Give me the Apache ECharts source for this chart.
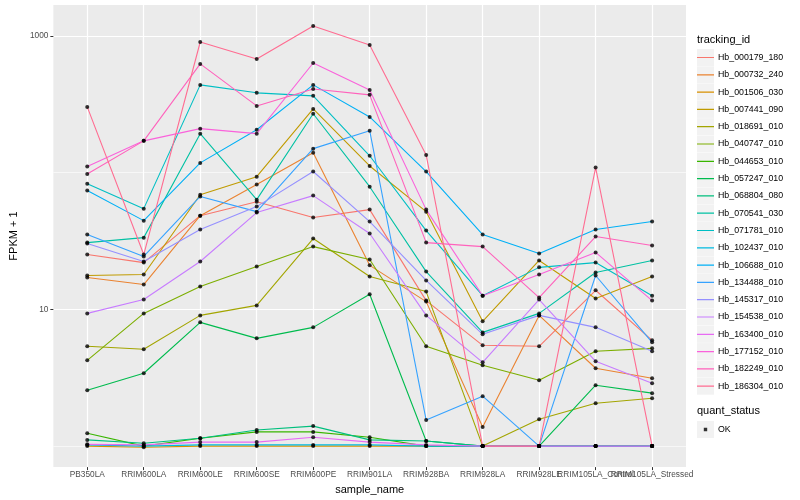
<!DOCTYPE html>
<html><head><meta charset="utf-8">
<script src="https://cdn.jsdelivr.net/npm/echarts@6/dist/echarts.min.js"></script>
<style>html,body{margin:0;padding:0;background:#fff}#c{width:800px;height:500px}</style>
</head><body><div id="c"></div>
<script>
const categories = ['PB350LA','RRIM600LA','RRIM600LE','RRIM600SE','RRIM600PE','RRIM901LA','RRIM928BA','RRIM928LA','RRIM928LE','RRIM105LA_Control','RRIM105LA_Stressed'];
const trackingIds = ['Hb_000179_180','Hb_000732_240','Hb_001506_030','Hb_007441_090','Hb_018691_010','Hb_040747_010','Hb_044653_010','Hb_057247_010','Hb_068804_080','Hb_070541_030','Hb_071781_010','Hb_102437_010','Hb_106688_010','Hb_134488_010','Hb_145317_010','Hb_154538_010','Hb_163400_010','Hb_177152_010','Hb_182249_010','Hb_186304_010'];
const colors = ['#F8766D','#EA8331','#D89000','#C09B00','#A3A500','#7CAE00','#39B600','#00BB4E','#00BF7D','#00C1A3','#00BFC4','#00BAE0','#00B0F6','#35A2FF','#9590FF','#C77CFF','#E76BF3','#FA62DB','#FF62BC','#FF6C91'];

const Hb_000179_180 = [25.2, 22, 48.5, 61.4, 47, 53.7, 11.6, 5.46, 5.37, 13.8, 5.94];
const Hb_000732_240 = [17.1, 15.2, 48.5, 82, 140, 21, 11.4, 1.38, 9.04, 3.71, 3.14];
const Hb_001506_030 = [1, 0.98, 1, 1, 1, 1, 1, 1, 1, 1, 1];
const Hb_007441_090 = [17.7, 18, 69, 93.5, 293, 112, 51.9, 8.18, 22.8, 12, 17.4];
const Hb_018691_010 = [5.37, 5.11, 9.04, 10.7, 33, 17.4, 13.5, 1, 1.57, 2.06, 2.24];
const Hb_040747_010 = [4.24, 9.35, 14.7, 20.6, 28.8, 23.2, 5.37, 3.9, 3.03, 4.94, 5.19];
const Hb_044653_010 = [1.24, 1, 1.14, 1.27, 1.27, 1.16, 1, 1, 1, 1, 1];
const Hb_057247_010 = [2.56, 3.41, 8.04, 6.14, 7.39, 12.9, 1.09, 1, 1, 2.79, 2.44];
const Hb_068804_080 = [1.11, 1.05, 1.14, 1.31, 1.40, 1.11, 1.09, 1, 1, 1, 1];
const Hb_070541_030 = [30.8, 33.5, 193, 63.5, 270, 79, 18.9, 6.79, 9.35, 18.6, 22.8];
const Hb_071781_010 = [83, 54.6, 439, 384, 365, 133, 37.7, 12.6, 20.3, 22, 12.6];
const Hb_102437_010 = [1.02, 1, 1.02, 1.02, 1.02, 1.02, 1, 1, 1, 1, 1];
const Hb_106688_010 = [74, 44.6, 118, 206, 439, 256, 102, 35.3, 25.6, 38.4, 43.9];
const Hb_134488_010 = [35.3, 24.4, 67, 51.9, 150, 203, 1.55, 2.32, 1, 17.7, 5.74];
const Hb_145317_010 = [30.3, 22.4, 38.4, 56.5, 102, 43.9, 16.3, 6.57, 9.04, 7.39, 4.94];
const Hb_154538_010 = [9.35, 11.8, 22.4, 51.1, 68, 35.9, 9.04, 4.1, 11.8, 4.17, 2.88];
const Hb_163400_010 = [1.03, 1.02, 1.07, 1.07, 1.16, 1.07, 1.02, 1, 1, 1, 1];
const Hb_177152_010 = [111, 171, 210, 193, 635, 403, 53.7, 12.6, 18, 26.1, 11.6];
const Hb_182249_010 = [98, 171, 625, 308, 410, 371, 30.8, 28.8, 12.2, 34.1, 29.3];
const Hb_186304_010 = [303, 25.2, 904, 679, 1183, 860, 135, 1, 1, 109, 1];

const yMajorTicks = [10, 1000];
const yMinorTicks = [1, 100];
const quantStatus = ['OK'];

const seriesValues = [Hb_000179_180, Hb_000732_240, Hb_001506_030, Hb_007441_090, Hb_018691_010, Hb_040747_010, Hb_044653_010, Hb_057247_010, Hb_068804_080, Hb_070541_030, Hb_071781_010, Hb_102437_010, Hb_106688_010, Hb_134488_010, Hb_145317_010, Hb_154538_010, Hb_163400_010, Hb_177152_010, Hb_182249_010, Hb_186304_010];

const FONT = 'Liberation Sans, Arial, Helvetica, sans-serif';
const catIdx = categories.map((c, i) => i);
const evenIdx = catIdx.filter(i => i % 2 === 0);
const oddIdx = catIdx.filter(i => i % 2 === 1);
const yMin = 0.702, yMax = 1686;

const lineSeries = trackingIds.map((id, k) => ({
  name: id, type: 'line', color: colors[k],
  data: seriesValues[k].map((v, i) => [i, v]),
  symbol: 'none', showSymbol: false,
  lineStyle: { width: 1.1, color: colors[k] },
  emphasis: { disabled: true }, silent: true, z: 2
}));
const pointData = [];
seriesValues.forEach(arr => arr.forEach((v, i) => pointData.push([i, v])));
const pointSeries = {
  name: quantStatus[0], type: 'scatter', data: pointData, symbol: 'circle', symbolSize: 4,
  itemStyle: { color: '#000' }, silent: true, z: 3
};

const LEG_LEFT = 697, LEG_TOP = 49, KEY = 17, GAP = 0.3;
const keyRects = [];
trackingIds.forEach((id, k) => keyRects.push({
  type: 'rect', left: LEG_LEFT, top: LEG_TOP + k * (KEY + GAP), z: -1,
  shape: { width: KEY, height: KEY }, style: { fill: '#F2F2F2' }, silent: true
}));
keyRects.push({ type: 'rect', left: LEG_LEFT, top: 421, z: -1, shape: { width: KEY, height: KEY }, style: { fill: '#F2F2F2' }, silent: true });

const lineIcon = 'path://M0,0h0.01v0.01H0z M0,7.9h17v1.2H0z M16.99,16.99h0.01v0.01h-0.01z';
const dotIcon = 'path://M0,0h0.01v0.01H0z M6.8,6.8h3.4v3.4h-3.4z M16.99,16.99h0.01v0.01h-0.01z';

const xLabelStyle = { formatter: v => categories[Math.round(v)] || '', fontSize: 8.3, color: '#4D4D4D', margin: 4, fontFamily: FONT, hideOverlap: false };

const chart = echarts.init(document.getElementById('c'), null, { renderer: 'canvas' });
chart.setOption({
  animation: false,
  backgroundColor: '#fff',
  textStyle: { fontFamily: FONT },
  title: [
    { text: 'tracking_id', left: LEG_LEFT, top: 34, padding: 0, textStyle: { fontSize: 11, fontWeight: 'normal', color: '#000', fontFamily: FONT } },
    { text: 'quant_status', left: LEG_LEFT, top: 405, padding: 0, textStyle: { fontSize: 11, fontWeight: 'normal', color: '#000', fontFamily: FONT } }
  ],
  grid: { left: 45, right: 114, top: 5, bottom: 32, show: true, backgroundColor: '#EBEBEB', borderWidth: 0, containLabel: false },
  legend: [
    {
      data: trackingIds.map((id, k) => ({ name: id, icon: lineIcon, itemStyle: { color: colors[k], borderWidth: 0 } })),
      orient: 'vertical', left: LEG_LEFT, top: LEG_TOP, padding: 0,
      itemWidth: KEY, itemHeight: KEY, itemGap: GAP, selectedMode: false,
      itemStyle: { borderWidth: 0 },
      textStyle: { fontSize: 8.8, color: '#000', fontFamily: FONT, padding: [0, 0, 0, -1] }
    },
    {
      data: [{ name: quantStatus[0], icon: dotIcon, itemStyle: { color: '#000', borderWidth: 0 } }],
      orient: 'vertical', left: LEG_LEFT, top: 421, padding: 0,
      itemWidth: KEY, itemHeight: KEY, selectedMode: false,
      itemStyle: { borderWidth: 0 },
      textStyle: { fontSize: 8.8, color: '#000', fontFamily: FONT, padding: [0, 0, 0, -1] }
    }
  ],
  xAxis: [
    {
      type: 'value', min: -0.6, max: 10.6, position: 'bottom',
      name: 'sample_name', nameLocation: 'middle', nameGap: 14,
      nameTextStyle: { fontSize: 11, color: '#000', fontFamily: FONT },
      axisLine: { show: false, onZero: false },
      axisTick: { show: true, length: 3, lineStyle: { color: '#333', width: 1 }, customValues: catIdx },
      axisLabel: Object.assign({ customValues: evenIdx }, xLabelStyle),
      splitLine: { show: true, lineStyle: { color: '#fff', width: 1.2 } }
    },
    {
      type: 'value', min: -0.6, max: 10.6, position: 'bottom', offset: 0,
      axisLine: { show: false, onZero: false },
      axisTick: { show: false, customValues: oddIdx },
      axisLabel: Object.assign({ customValues: oddIdx }, xLabelStyle),
      splitLine: { show: false }
    }
  ],
  yAxis: [
    {
      type: 'log', logBase: 10, min: yMin, max: yMax,
      name: 'FPKM + 1', nameLocation: 'middle', nameGap: 28,
      nameTextStyle: { fontSize: 11, color: '#000', fontFamily: FONT },
      axisLine: { show: false, onZero: false },
      axisTick: { show: true, length: 3, lineStyle: { color: '#333', width: 1 }, customValues: yMajorTicks },
      axisLabel: { customValues: yMajorTicks, formatter: v => String(Math.round(v)), fontSize: 8.3, color: '#4D4D4D', margin: 5, fontFamily: FONT },
      splitLine: { show: true, lineStyle: { color: '#fff', width: 1.2 } }
    },
    {
      type: 'log', logBase: 10, min: yMin, max: yMax, position: 'left',
      axisLine: { show: false, onZero: false },
      axisTick: { show: false, customValues: yMinorTicks },
      axisLabel: { show: false, customValues: yMinorTicks },
      splitLine: { show: true, lineStyle: { color: '#fff', width: 0.6 } }
    }
  ],
  graphic: keyRects,
  series: lineSeries.concat([pointSeries])
});
</script>
</body></html>
